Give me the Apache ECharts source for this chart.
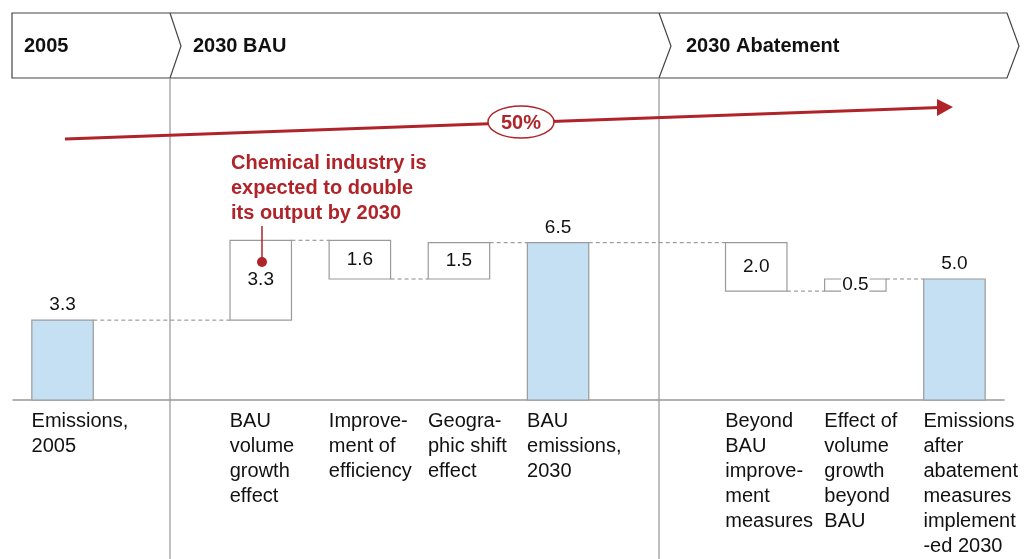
<!DOCTYPE html>
<html>
<head>
<meta charset="utf-8">
<script src="https://cdn.jsdelivr.net/npm/echarts@6/dist/echarts.min.js"></script>
<style>
  html, body { margin: 0; padding: 0; background: #fff; }
  #chart { width: 1030px; height: 559px; }
</style>
</head>
<body>
<div id="chart"></div>
<script>
// category slots (empty strings are the gaps between phases)
const categories = [
  'Emissions,\n2005',
  '',
  'BAU\nvolume\ngrowth\neffect',
  'Improve-\nment of\nefficiency',
  'Geogra-\nphic shift\neffect',
  'BAU\nemissions,\n2030',
  '',
  'Beyond\nBAU\nimprove-\nment\nmeasures',
  'Effect of\nvolume\ngrowth\nbeyond\nBAU',
  'Emissions\nafter\nabatement\nmeasures\nimplement\n-ed 2030'
]
const stepValues = [3.3, null, 3.3, -1.6, 1.5, 6.5, null, -2.0, 0.5, 5.0]
const stepKinds = ['total', 'gap', 'delta', 'delta', 'delta', 'total', 'gap', 'delta', 'delta', 'total']
const phases = ['2005', '2030 BAU', '2030 Abatement']
const reductionLabel = '50%'
const noteLines = ['Chemical industry is', 'expected to double', 'its output by 2030']

const FONT = '"Liberation Sans", Arial, Helvetica, sans-serif'
const RED = '#af2329'
const BAR_RATIO = 0.62

// build waterfall steps: [index, start, end, isTotal]
const steps = []
let running = 0
stepValues.forEach((v, i) => {
  if (stepKinds[i] === 'gap') return
  if (stepKinds[i] === 'total') {
    steps.push([i, 0, v, 1])
    running = v
  } else {
    steps.push([i, running, running + v, 0])
    running = running + v
  }
})
// dashed connectors between consecutive steps: [from, to, level]
const links = []
for (let k = 0; k < steps.length - 1; k++) {
  links.push([steps[k][0], steps[k + 1][0], steps[k][2]])
}

function renderStep(params, api) {
  const i = api.value(0)
  const lo = api.coord([i, api.value(1)])
  const hi = api.coord([i, api.value(2)])
  const w = api.size([1, 0])[0] * BAR_RATIO
  const top = Math.min(lo[1], hi[1])
  const bottom = Math.max(lo[1], hi[1])
  const isTotal = api.value(3) === 1
  const label = Math.abs(stepValues[i]).toFixed(1)
  return {
    type: 'group',
    children: [
      {
        type: 'rect',
        shape: { x: lo[0] - w / 2, y: top, width: w, height: bottom - top },
        style: { fill: isTotal ? '#c5dff3' : '#fff', stroke: '#9a9a9a', lineWidth: 1.2 }
      },
      {
        type: 'text',
        z2: 10,
        style: {
          text: label,
          x: lo[0],
          y: isTotal ? top - 15 : (top + bottom) / 2,
          align: 'center',
          verticalAlign: 'middle',
          font: '19px ' + FONT,
          fill: '#111',
          backgroundColor: isTotal ? 'transparent' : '#fff',
          padding: [0, 1]
        }
      }
    ]
  }
}

function renderLink(params, api) {
  const a = api.coord([api.value(0), api.value(2)])
  const b = api.coord([api.value(1), api.value(2)])
  const half = api.size([1, 0])[0] * BAR_RATIO / 2
  return {
    type: 'line',
    shape: { x1: a[0] + half, y1: a[1], x2: b[0] - half, y2: b[1] },
    style: { stroke: '#888', lineWidth: 1, lineDash: [4, 3] }
  }
}

const chart = echarts.init(document.getElementById('chart'))

const headerStyle = { fill: '#fff', stroke: '#444', lineWidth: 1.2 }
const phaseText = (text, x) => ({
  type: 'text',
  x: x,
  y: 46,
  style: { text: text, font: 'bold 20px ' + FONT, fill: '#111', verticalAlign: 'middle' }
})

chart.setOption({
  animation: false,
  grid: { left: 13, right: 26, top: 158, bottom: 155 },
  xAxis: {
    type: 'category',
    data: categories,
    axisLine: { lineStyle: { color: '#999', width: 1.5 } },
    axisTick: { show: false },
    axisLabel: {
      interval: 0,
      align: 'left',
      padding: [0, 0, 0, -31],
      margin: 9,
      color: '#111',
      fontSize: 20,
      lineHeight: 25,
      fontFamily: FONT
    }
  },
  yAxis: { type: 'value', min: 0, max: 10, show: false },
  series: [
    {
      type: 'custom',
      name: 'links',
      renderItem: renderLink,
      encode: { x: [0, 1], y: 2 },
      data: links,
      z: 1
    },
    {
      type: 'custom',
      name: 'steps',
      renderItem: renderStep,
      encode: { x: 0, y: [1, 2] },
      data: steps,
      z: 2
    }
  ],
  graphic: [
    // phase header
    { type: 'polygon', shape: { points: [[12, 13], [1007, 13], [1019, 46], [1007, 78], [12, 78]] }, style: headerStyle },
    { type: 'polyline', shape: { points: [[170, 13], [181, 46], [170, 78]] }, style: { stroke: '#444', lineWidth: 1.2, fill: null } },
    { type: 'polyline', shape: { points: [[659, 13], [671, 46], [659, 78]] }, style: { stroke: '#444', lineWidth: 1.2, fill: null } },
    phaseText(phases[0], 24),
    phaseText(phases[1], 193),
    phaseText(phases[2], 686),
    // phase separators
    { type: 'line', shape: { x1: 170, y1: 79, x2: 170, y2: 559 }, style: { stroke: '#aaa', lineWidth: 1.5 }, z: -1 },
    { type: 'line', shape: { x1: 659, y1: 79, x2: 659, y2: 559 }, style: { stroke: '#aaa', lineWidth: 1.5 }, z: -1 },
    // 50% arrow
    { type: 'line', shape: { x1: 65, y1: 139, x2: 940, y2: 107.5 }, style: { stroke: RED, lineWidth: 3 }, z: 5 },
    { type: 'polygon', shape: { points: [[937, 99], [953, 107], [937, 116]] }, style: { fill: RED }, z: 5 },
    { type: 'ellipse', shape: { cx: 521, cy: 122, rx: 33, ry: 16 }, style: { fill: '#fff', stroke: RED, lineWidth: 1.5 }, z: 6 },
    {
      type: 'text', x: 521, y: 123, z: 7,
      style: { text: reductionLabel, font: 'bold 20px ' + FONT, fill: RED, align: 'center', verticalAlign: 'middle' }
    },
    // annotation
    {
      type: 'text', x: 231, y: 151, z: 7,
      style: { text: noteLines.join('\n'), font: 'bold 20px ' + FONT, lineHeight: 25, fill: RED, verticalAlign: 'top' }
    },
    { type: 'line', shape: { x1: 262, y1: 226, x2: 262, y2: 262 }, style: { stroke: RED, lineWidth: 1.5 }, z: 20 },
    { type: 'circle', shape: { cx: 262, cy: 262, r: 5 }, style: { fill: RED }, z: 20 }
  ]
})
</script>
</body>
</html>
